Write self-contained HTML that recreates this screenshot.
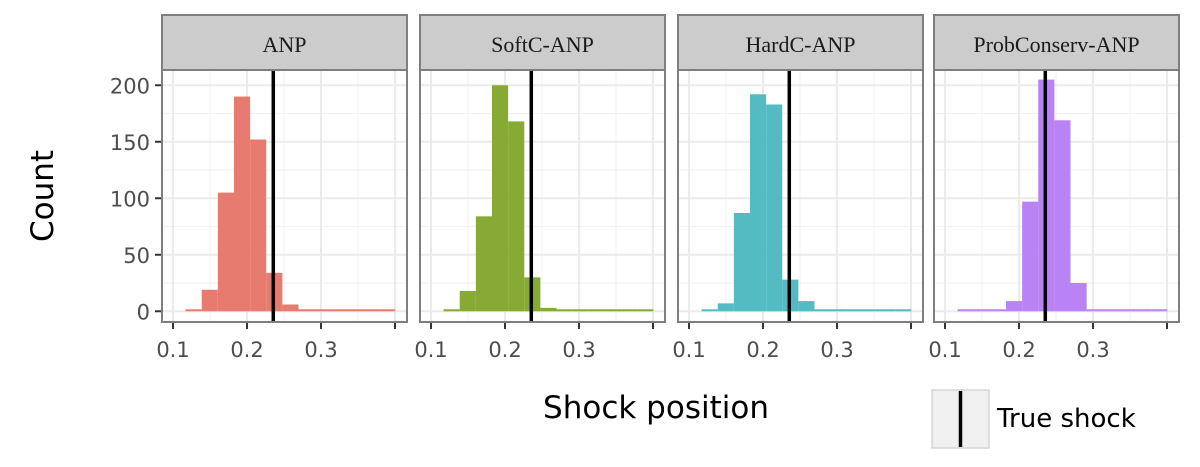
<!DOCTYPE html>
<html><head><meta charset="utf-8">
<style>
html,body{margin:0;padding:0;background:#fff;}
svg{display:block;}
.tick{font-family:"DejaVu Sans","Liberation Sans",sans-serif;font-size:21px;fill:#4d4d4d;}
.strip{font-family:"Liberation Serif",serif;font-size:22px;fill:#1a1a1a;}
.title{font-family:"DejaVu Sans","Liberation Sans",sans-serif;font-size:31px;fill:#000;}
</style></head>
<body>
<svg id="chart" width="1200" height="467" viewBox="0 0 1200 467"></svg>
<script>
const panelNames = ["ANP","SoftC-ANP","HardC-ANP","ProbConserv-ANP"];
const panelColors = ["#e87b70","#86aa33","#55bbc2","#b982f5"];
const binStart = 0.117;
const binWidth = 0.0218;
const countsANP = [1,19,105,190,152,34,6,1,1,1,1,1,1];
const countsSoftC = [1,18,84,200,168,30,3,1,1,1,1,1,1];
const countsHardC = [1,7,87,192,183,28,9,1,1,1,1,1,1];
const countsProb = [1,1,1,9,97,205,169,25,1,1,1,1,1];
const allCounts = [countsANP,countsSoftC,countsHardC,countsProb];
const trueShock = 0.2355;
const xTicks = [0.1,0.2,0.3,0.4];
const xTickLabels = ["0.1","0.2","0.3"];
const yTicks = [0,50,100,150,200];
const xMinor = [0.15,0.25,0.35];
const yMinor = [25,75,125,175];

const NS="http://www.w3.org/2000/svg";
const svgEl=document.getElementById('chart');
function mk(tag,attrs,parent){const e=document.createElementNS(NS,tag);for(const k in attrs)e.setAttribute(k,attrs[k]);(parent||svgEl).appendChild(e);return e;}

const panelLefts=[162,420,678,934];
const panelW=245, pTop=70, pBottom=322, stripTop=15;
const xDom=[0.0851,0.4162], yDom=[-9.5,213.5];
function yS(v){return pBottom-(v-yDom[0])/(yDom[1]-yDom[0])*(pBottom-pTop);}

panelNames.forEach((name,p)=>{
  const L=panelLefts[p];
  const xS=v=>L+(v-xDom[0])/(xDom[1]-xDom[0])*panelW;
  const g=mk('g',{});
  
  
  const strip=mk('rect',{x:L,y:stripTop,width:panelW,height:pTop-stripTop,fill:'#cccccc',stroke:'#7f7f7f','stroke-width':2},g);
  
  
  const st=mk('text',{x:L+panelW/2,y:52,'text-anchor':'middle',class:'strip'},g);
  st.textContent=name;
  
  
  mk('rect',{x:L,y:pTop,width:panelW,height:pBottom-pTop,fill:'#fff'},g);
  xMinor.forEach(v=>mk('line',{x1:xS(v),x2:xS(v),y1:pTop,y2:pBottom,stroke:'#f2f2f2','stroke-width':1},g));
  yMinor.forEach(v=>mk('line',{x1:L,x2:L+panelW,y1:yS(v),y2:yS(v),stroke:'#f2f2f2','stroke-width':1},g));
  xTicks.forEach(v=>mk('line',{x1:xS(v),x2:xS(v),y1:pTop,y2:pBottom,stroke:'#ebebeb','stroke-width':2},g));
  yTicks.forEach(v=>mk('line',{x1:L,x2:L+panelW,y1:yS(v),y2:yS(v),stroke:'#ebebeb','stroke-width':2},g));
  allCounts[p].forEach((c,i)=>{
    const x0=xS(binStart+i*binWidth), x1=xS(binStart+(i+1)*binWidth);
    const y1=yS(c), y0=yS(0);
    const r=mk('rect',{x:x0,y:Math.min(y1,y0-2),width:x1-x0,height:Math.max(y0-y1,2),fill:panelColors[p]},g);
    
    
  });
  const tl=mk('line',{x1:xS(trueShock),x2:xS(trueShock),y1:pTop,y2:pBottom,stroke:'#000','stroke-width':3.5},g);
  
  
  mk('rect',{x:L,y:pTop,width:panelW,height:pBottom-pTop,fill:'none',stroke:'#7f7f7f','stroke-width':2},g);
  xTicks.forEach((v,i)=>{
    mk('line',{x1:xS(v),x2:xS(v),y1:pBottom+1,y2:pBottom+7,stroke:'#333','stroke-width':2},g);
    if(i<xTickLabels.length){
      const t=mk('text',{x:xS(v),y:pBottom+35,'text-anchor':'middle',class:'tick'},g);
      t.textContent=xTickLabels[i];
      
      
    }
  });
  if(p===0){
    yTicks.forEach(v=>{
      mk('line',{x1:L-7,x2:L-1,y1:yS(v),y2:yS(v),stroke:'#333','stroke-width':2},g);
      const t=mk('text',{x:L-12,y:yS(v)+8,'text-anchor':'end',class:'tick'},g);
      t.textContent=String(v);
      
      
    });
  }
});

const yt=mk('text',{x:0,y:0,'text-anchor':'middle',class:'title',transform:'translate(53,196) rotate(-90)'});
yt.textContent='Count';


const xt=mk('text',{x:656,y:418,'text-anchor':'middle',class:'title'});
xt.textContent='Shock position';



const lg=mk('g',{});


mk('rect',{x:932,y:390,width:57,height:58,fill:'#f0f0f0',stroke:'#d6d6d6','stroke-width':1.5},lg);
mk('line',{x1:960.5,x2:960.5,y1:391,y2:447,stroke:'#000','stroke-width':3.5},lg);
const lt=mk('text',{x:997,y:427,class:'title'},lg);
lt.style.fontSize='26px';
lt.textContent='True shock';


</script>
</body></html>
